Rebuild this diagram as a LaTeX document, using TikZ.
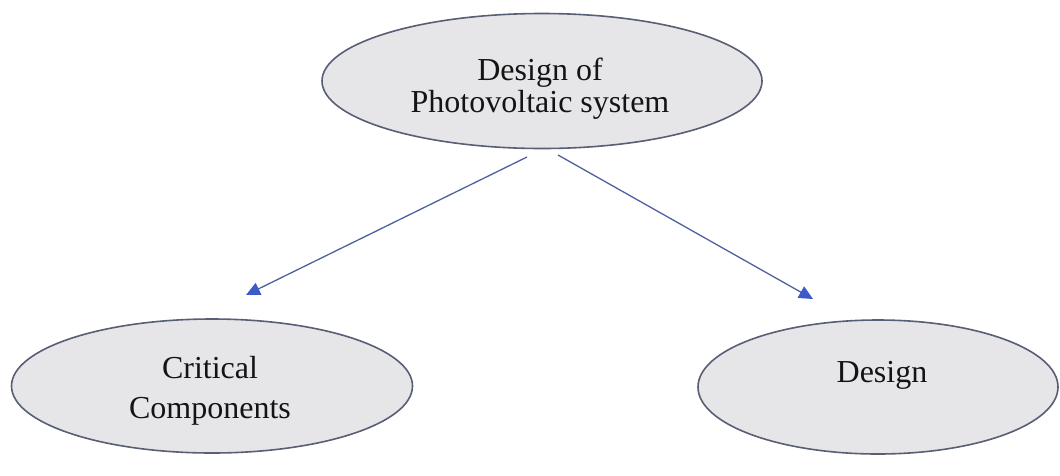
\documentclass[tikz,border=0pt]{standalone}
\usepackage{fontspec}
\setmainfont{Liberation Serif}
\usetikzlibrary{shapes.geometric,arrows.meta}
\definecolor{ellfill}{RGB}{230,230,233}
\definecolor{elldraw}{RGB}{88,94,115}
\definecolor{arrline}{RGB}{80,95,160}
\definecolor{arrhead}{RGB}{60,90,200}
\definecolor{txt}{RGB}{20,20,20}
\begin{document}
\begin{tikzpicture}[x=1pt,y=-1pt,
  ell/.style={ellipse, draw=elldraw, fill=ellfill, line width=1.6pt, inner sep=0pt},
  lbl/.style={font=\fontsize{32}{32}\selectfont, text=txt, align=center, inner sep=0pt},
  conn/.style={draw=arrline, line width=1.3pt, -{Triangle[length=14pt,width=13pt,fill=arrhead,color=arrhead]}}]
\useasboundingbox (0,0) rectangle (1060,475);
% ellipses
\node[ell, minimum width=440pt, minimum height=135pt] (top) at (542,81) {};
\node[ell, minimum width=401pt, minimum height=134pt] (left) at (212,386) {};
\node[ell, minimum width=360pt, minimum height=134pt] (right) at (878,387) {};
% texts
\node[lbl, anchor=base] (t1) at (540,80) {Design of};
\node[lbl, anchor=base] (t2) at (540,112) {Photovoltaic system};
\node[lbl, anchor=base] (l1) at (210,378) {Critical};
\node[lbl, anchor=base] (l2) at (210,418) {Components};
\node[lbl, anchor=base] (r1) at (882,382) {Design};
% connectors
\coordinate (s1) at (527,157);
\coordinate (e1) at (246,295);
\coordinate (s2) at (558,155);
\coordinate (e2) at (813,299);
\draw[conn] (s1) -- (e1);
\draw[conn] (s2) -- (e2);
\end{tikzpicture}
\end{document}
